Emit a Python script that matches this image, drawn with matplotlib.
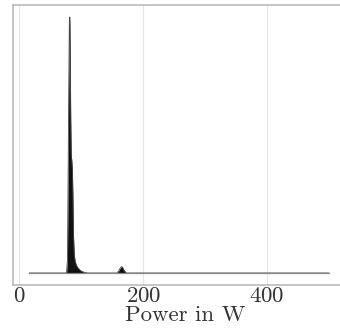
import matplotlib
matplotlib.use("Agg")
import matplotlib.pyplot as plt

plt.rcParams['font.family'] = 'serif'
plt.rcParams['font.serif'] = ['cmr10']
plt.rcParams['mathtext.fontset'] = 'cm'
plt.rcParams['axes.formatter.use_mathtext'] = True

power_w = [16, 76, 77.5, 78.5, 79.5, 80.5, 81.3, 82.0, 82.8, 83.6, 84.5, 85.5, 86.3,
           87.2, 88.5, 90, 92, 95, 99, 104, 110, 157, 160, 162, 164, 165.5,
           167, 169, 171, 173, 500]
density = [0, 0, 0.05, 0.35, 0.7, 0.97, 1.0, 0.85, 0.6, 0.46, 0.44, 0.40, 0.30,
           0.15, 0.07, 0.045, 0.03, 0.018, 0.009, 0.003, 0, 0, 0.007, 0.016, 0.023, 0.025,
           0.02, 0.01, 0.004, 0, 0]

fig = plt.figure(figsize=(3.4, 3.32), dpi=100)
ax = fig.add_axes([13/340, 1 - 285/332, 1 - 13/340 + 0.05, 280/332])

ax.fill_between(power_w, 0, density, color='#111111', linewidth=0, zorder=3)
ax.plot(power_w, density, color='#444444', linewidth=0.6, zorder=4)
ax.plot([power_w[0], power_w[-1]], [0, 0], color='#888888', linewidth=0.9, zorder=5)

ax.set_xlim(-10.5, 518 + 0.05 * 340 / 0.62)
ax.set_ylim(-0.047, 1.047)
ax.set_xticks([0, 200, 400])
ax.set_yticks([])
ax.grid(axis='x', color='#e6e6e6', linewidth=0.8)
ax.set_axisbelow(True)
ax.tick_params(axis='x', length=0, labelsize=16.5, pad=1, colors='#333333')
for s in ['left', 'top', 'bottom']:
    ax.spines[s].set_color('#bbbbbb')
    ax.spines[s].set_linewidth(1.2)
ax.spines['right'].set_visible(False)
ax.set_xlabel('Power in W', fontsize=16.5, labelpad=0, color='#333333')

fig.savefig('out.png', dpi=100)
